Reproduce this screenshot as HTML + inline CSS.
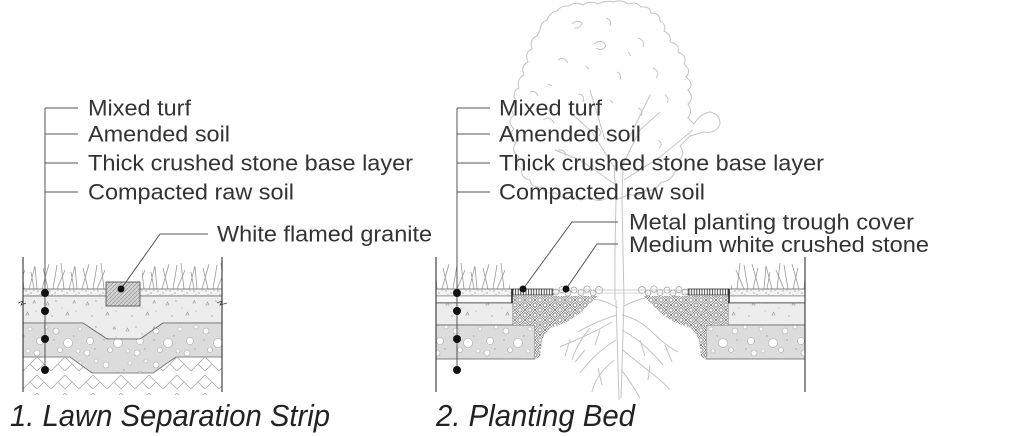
<!DOCTYPE html>
<html><head><meta charset="utf-8"><style>
html,body{margin:0;padding:0;background:#fff;}
svg{display:block;}
text{font-family:"Liberation Sans",Arial,sans-serif;}
</style></head><body>
<svg width="1024" height="436" viewBox="0 0 1024 436" xmlns="http://www.w3.org/2000/svg">
<defs>
<pattern id="grass" width="40" height="28" patternUnits="userSpaceOnUse" x="0" y="261">
<path d="M2,28 L9,3 M8,28 L3,7 M13,28 L17,4 M17,28 L25,9 M24,28 L21,2 M29,28 L35,5 L37,28 M34,28 L31,11" stroke="#999" stroke-width="0.8" fill="none"/>
</pattern>
<pattern id="turf" width="12" height="7" patternUnits="userSpaceOnUse" x="0" y="289">
<rect width="12" height="7" fill="#f3f3f3"/>
<circle cx="2" cy="2" r="0.6" fill="#888"/><circle cx="7" cy="4" r="0.6" fill="#888"/><circle cx="10" cy="1.5" r="0.5" fill="#999"/><circle cx="4" cy="5.5" r="0.5" fill="#999"/>
</pattern>
<pattern id="soil" width="40" height="26" patternUnits="userSpaceOnUse" x="0" y="296">
<rect width="40" height="26" fill="#ededed"/>
<path d="M6,9 l3,0 l-1.5,-3z M26,19 l3,0 l-1.5,-3z M33,7 l2.5,0 l-1.2,-2.5z" stroke="#999" stroke-width="0.6" fill="none"/>
<circle cx="16" cy="5" r="0.7" fill="#999"/><circle cx="12" cy="20" r="0.7" fill="#999"/><circle cx="36" cy="15" r="0.6" fill="#aaa"/><circle cx="22" cy="12" r="0.6" fill="#aaa"/>
</pattern>
<pattern id="stone" width="50" height="34" patternUnits="userSpaceOnUse" x="0" y="323">
<rect width="50" height="34" fill="#dcdcdc"/>
<g fill="#fff" stroke="#aaa" stroke-width="0.6">
<circle cx="6" cy="8" r="3"/><circle cx="18" cy="20" r="4.5"/><circle cx="30" cy="6" r="2"/><circle cx="40" cy="18" r="3.5"/><circle cx="10" cy="27" r="2.5"/><circle cx="28" cy="28" r="2"/><circle cx="46" cy="4" r="2"/><circle cx="37" cy="30" r="3"/>
</g>
<circle cx="24" cy="13" r="0.7" fill="#999"/><circle cx="4" cy="17" r="0.7" fill="#999"/><circle cx="45" cy="26" r="0.7" fill="#999"/>
</pattern>
<pattern id="herr" width="28" height="18" patternUnits="userSpaceOnUse" x="23" y="357">
<path d="M0,14 L14,0 L28,14 M7,7 L14,14 M21,7 L14,14" stroke="#aaa" stroke-width="0.8" fill="none"/>
</pattern>
<pattern id="bask" width="10" height="10" patternUnits="userSpaceOnUse">
<rect width="10" height="10" fill="#fff"/>
<path d="M0,5 L5,0 M0,2.5 L2.5,0 M2.5,5 L5,2.5 M5,0 L10,5 M7.5,0 L10,2.5 M5,2.5 L7.5,5 M0,5 L5,10 M2.5,5 L5,7.5 M0,7.5 L2.5,10 M5,10 L10,5 M5,7.5 L7.5,5 M7.5,10 L10,7.5" stroke="#444" stroke-width="0.55" fill="none"/>
</pattern>
<pattern id="gran" width="4" height="4" patternUnits="userSpaceOnUse">
<rect width="4" height="4" fill="#d2d2d2"/>
<path d="M0,4 L4,0" stroke="#888" stroke-width="0.6"/>
</pattern>
<pattern id="trough" width="2.6" height="6" patternUnits="userSpaceOnUse" x="512">
<rect width="2.6" height="6" fill="#fff"/>
<path d="M1,0 L1,6" stroke="#222" stroke-width="0.8"/>
</pattern>

<g id="rhalf">
<rect x="436" y="261" width="74" height="28" fill="url(#grass)"/>
<rect x="436" y="289" width="76" height="7" fill="url(#turf)" stroke="#666" stroke-width="0.8"/>
<rect x="436" y="296" width="76" height="7" fill="#fafafa" stroke="#777" stroke-width="0.6"/>
<line x1="436" y1="303" x2="513" y2="303" stroke="#222" stroke-width="1.2"/>
<rect x="436" y="303" width="77" height="22" fill="url(#soil)" stroke="#666" stroke-width="0.8"/>
<rect x="436" y="325" width="99" height="34" fill="url(#stone)" stroke="#666" stroke-width="0.8"/>
<polygon points="513,296 598,296 590,303 583,310 575,317 567,322 556,326 550,328 545,334 542,340 541,350 540,357 535,359 535,325 513,325" fill="url(#bask)"/>
<rect x="512" y="289" width="41" height="6" fill="url(#trough)" stroke="#333" stroke-width="0.8"/>
<line x1="512" y1="289" x2="512" y2="303" stroke="#222" stroke-width="1.6"/>
<g fill="#fff" stroke="#999" stroke-width="0.7">
<circle cx="556" cy="292" r="3"/><circle cx="562" cy="289.5" r="3"/><circle cx="568" cy="293" r="3"/><circle cx="574" cy="290" r="3"/><circle cx="581" cy="292.5" r="3"/><circle cx="587" cy="289" r="3.2"/><circle cx="593" cy="293" r="2.8"/><circle cx="599" cy="290" r="3.5"/>
</g>
<line x1="436" y1="257" x2="436" y2="392" stroke="#444" stroke-width="1.2"/>
</g>
</defs>

<!-- Tree (light gray) -->
<g fill="none" stroke="#c4c4c4" stroke-width="1">
<path d="M540,30 Q541,22 547,20 Q550,12 557,11 Q561,5 569,6 Q575,1 583,5 Q590,0 598,4 Q606,0 613,2 Q622,-1 628,4 Q636,1 641,7 Q650,6 651,13 Q660,13 660,21 Q667,25 664,31 Q672,35 670,42 Q680,44 678,52 Q688,56 684,64 Q692,70 686,77 Q695,84 688,90 Q695,98 688,104 Q693,112 688,118 L694,124 Q700,114 710,112 Q720,114 720,124 Q716,134 704,132 L690,136 Q684,142 680,146 Q686,154 679,160 Q684,168 675,172 Q670,182 661,182 Q656,192 646,190 Q638,198 628,194 Q618,202 609,197 Q598,204 590,197 Q580,203 572,196 Q561,200 556,193 Q545,195 542,187 Q531,188 530,180 Q520,178 522,169 Q513,164 519,157 Q510,150 516,143 Q507,136 514,129 Q506,121 514,115 Q508,106 516,101 Q511,92 519,88 Q516,79 524,75 Q520,66 528,62 Q524,52 532,49 Q529,39 537,36 Z"/>
<path d="M572,24 q5,-5 10,-1 q-2,6 -8,5 M606,18 q6,2 4,8 M594,44 q8,-6 12,2 q-4,6 -10,2 M638,38 q7,2 5,9 M558,60 q6,-4 10,3 M617,72 q5,2 3,8 M653,68 q8,4 3,10 M578,94 q7,0 5,8 M543,120 q7,-5 11,3 M638,108 q6,2 3,8 M597,128 q6,3 2,8 M558,150 q7,-1 8,6 M658,140 q6,4 1,8 M530,92 q6,-2 8,4 M665,95 q5,4 2,8 M586,66 l3,3 M628,52 l3,4 M610,100 l3,3 M548,84 l4,2"/>
<path d="M614,165 L616,200 L615,250 L615,300 M623,165 L622,200 L623,250 L624,300"/>
<path d="M620,170 L640,130 L660,112 M617,172 L592,132 L570,112 M624,180 L660,157 L693,130 M616,185 L580,160 L555,150 M628,140 L650,95 M605,140 L590,90"/>
<path d="M616,300 C617,330 618,360 619,400 M624,300 C623,330 622,360 621,398"/>
<path d="M617,315 C600,320 590,325 578,332 M612,322 C590,335 575,340 560,347 M616,340 C600,350 590,360 580,373 M614,360 C600,372 595,380 592,392 M622,315 C635,318 645,325 653,333 M622,330 C640,340 652,352 663,365 M623,350 C640,365 660,378 670,390 M621,370 C630,380 635,390 640,398 M618,308 C605,300 595,298 585,300 M624,306 C640,298 650,296 660,298 M590,328 C580,340 575,350 572,360 M650,330 C660,340 670,348 678,352"/>
<path d="M600,330 L595,345 M640,340 L645,356 M585,350 L575,362 M650,365 L648,380 M598,368 L602,385 M570,340 L565,356 M665,345 L672,362"/>
</g>

<!-- Left diagram -->
<rect x="23" y="261" width="82" height="28" fill="url(#grass)"/>
<rect x="142" y="261" width="80" height="28" fill="url(#grass)"/>
<rect x="23" y="289" width="199" height="7" fill="url(#turf)" stroke="#666" stroke-width="0.8"/>
<polygon points="23,296 222,296 222,323 163,323 140,339 107,339 83,323 23,323" fill="url(#soil)" stroke="#666" stroke-width="0.8"/>
<polygon points="23,323 83,323 107,339 140,339 163,323 222,323 222,357 176,357 153,373 92,373 70,357 23,357" fill="url(#stone)" stroke="#666" stroke-width="0.8"/>
<polygon points="23,357 70,357 92,373 153,373 176,357 222,357 222,395 23,395" fill="url(#herr)"/>
<rect x="106" y="282" width="34" height="24" fill="url(#gran)" stroke="#555" stroke-width="0.9"/>
<line x1="23" y1="257" x2="23" y2="392" stroke="#444" stroke-width="1.2"/>
<line x1="222" y1="257" x2="222" y2="392" stroke="#444" stroke-width="1.2"/>
<path d="M18,303 L23,301 L21,305 L26,303 M217,303 L222,301 L220,305 L227,303" stroke="#444" stroke-width="0.8" fill="none"/>

<!-- Right diagram -->
<use href="#rhalf"/>
<use href="#rhalf" transform="translate(1241,0) scale(-1,1)"/>
<line x1="553" y1="290" x2="688" y2="290" stroke="#bbb" stroke-width="0.8"/>
<line x1="553" y1="293" x2="688" y2="293" stroke="#ccc" stroke-width="0.8"/>

<!-- Leaders -->
<g stroke="#555" stroke-width="1" fill="none">
<path d="M45,108 L45,370 M45,108 L78,108 M45,134 L78,134 M45,163 L78,163 M45,192 L78,192"/>
<path d="M457,108 L457,370 M457,108 L490,108 M457,134 L490,134 M457,163 L490,163 M457,192 L490,192"/>
<path d="M208,234 L160,234 L121,289"/>
<path d="M618,222 L572,222 L523,289"/>
<path d="M618,244 L597,244 L566,289"/>
</g>
<g fill="#111">
<circle cx="45" cy="293" r="4"/><circle cx="45" cy="311" r="4"/><circle cx="45" cy="339" r="4"/><circle cx="45" cy="370" r="4"/>
<circle cx="457" cy="293" r="4"/><circle cx="457" cy="311" r="4"/><circle cx="457" cy="339" r="4"/><circle cx="457" cy="370" r="4"/>
<circle cx="121" cy="289" r="3.5"/><circle cx="523" cy="289" r="3.5"/><circle cx="566" cy="289" r="3.5"/>
</g>

<!-- Labels -->
<g fill="#333" font-size="22">
<text x="88" y="115.5" textLength="103" lengthAdjust="spacingAndGlyphs">Mixed turf</text>
<text x="88" y="141.5" textLength="142" lengthAdjust="spacingAndGlyphs">Amended soil</text>
<text x="88" y="170.5" textLength="325" lengthAdjust="spacingAndGlyphs">Thick crushed stone base layer</text>
<text x="88" y="199.5" textLength="206" lengthAdjust="spacingAndGlyphs">Compacted raw soil</text>
<text x="217" y="241.5" textLength="215" lengthAdjust="spacingAndGlyphs">White flamed granite</text>
<text x="499" y="115.5" textLength="103" lengthAdjust="spacingAndGlyphs">Mixed turf</text>
<text x="499" y="141.5" textLength="142" lengthAdjust="spacingAndGlyphs">Amended soil</text>
<text x="499" y="170.5" textLength="325" lengthAdjust="spacingAndGlyphs">Thick crushed stone base layer</text>
<text x="499" y="199.5" textLength="206" lengthAdjust="spacingAndGlyphs">Compacted raw soil</text>
<text x="629" y="229.5" textLength="285" lengthAdjust="spacingAndGlyphs">Metal planting trough cover</text>
<text x="629" y="252" textLength="300" lengthAdjust="spacingAndGlyphs">Medium white crushed stone</text>
</g>
<g fill="#222" font-size="31" font-style="italic">
<text x="10" y="426" textLength="320" lengthAdjust="spacingAndGlyphs">1. Lawn Separation Strip</text>
<text x="436" y="426" textLength="199" lengthAdjust="spacingAndGlyphs">2. Planting Bed</text>
</g>
</svg>
</body></html>
